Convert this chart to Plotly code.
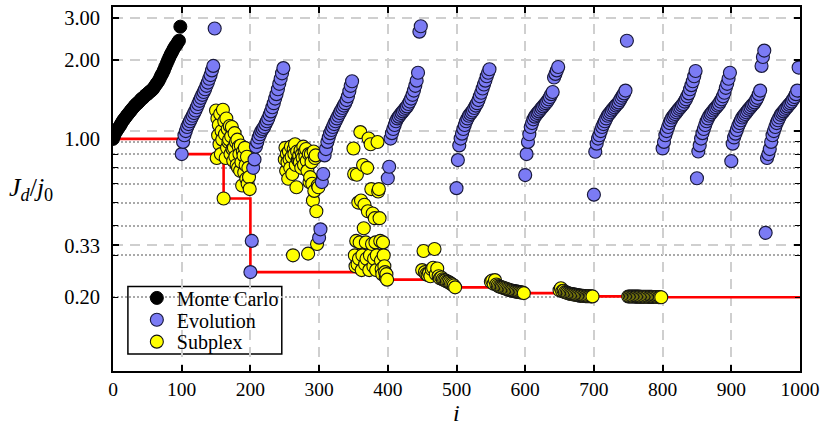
import plotly.graph_objects as go

# ---------------- data ----------------
# Monte Carlo: iterations 0..98 (every 2nd evaluation shown)
mc_start, mc_step = 0, 2
mc_values = [0.927, 0.96, 0.99, 1.01, 1.03, 1.05, 1.075, 1.10, 1.12, 1.14,
             1.16, 1.18, 1.20, 1.22, 1.24, 1.26, 1.28, 1.30, 1.31, 1.33,
             1.35, 1.37, 1.38, 1.40, 1.42, 1.43, 1.45, 1.47, 1.48, 1.50,
             1.53, 1.56, 1.59, 1.62, 1.66, 1.71, 1.75, 1.80, 1.86, 1.92,
             1.98, 2.04, 2.10, 2.15, 2.21, 2.26, 2.30, 2.35, 2.40, 2.75]

# Evolution runs (block start iteration -> values, every 2nd evaluation)
evo_step = 2
evo_100 = [0.80, 0.90, 0.96, 1.00, 1.04, 1.07, 1.10, 1.13, 1.16, 1.19, 1.22, 1.26, 1.30,
           1.34, 1.38, 1.42, 1.46, 1.50, 1.55, 1.60, 1.66, 1.72, 1.80, 1.88, 2.70]
evo_200 = [0.255, 0.345, 0.70, 0.76, 0.86, 0.90, 0.94, 0.97, 1.00, 1.02, 1.04, 1.07, 1.10,
           1.13, 1.17, 1.21, 1.26, 1.31, 1.37, 1.43, 1.50, 1.58, 1.66, 1.75, 1.84]
evo_300 = [0.356, 0.386, 0.61, 0.66, 0.79, 0.84, 0.90, 0.94, 0.98, 1.01, 1.04, 1.07, 1.10,
           1.13, 1.16, 1.19, 1.22, 1.25, 1.28, 1.31, 1.35, 1.40, 1.47, 1.55, 1.62]
evo_400 = [0.633, 0.708, 0.93, 0.98, 1.02, 1.06, 1.10, 1.13, 1.15, 1.17, 1.19, 1.21, 1.23,
           1.25, 1.27, 1.30, 1.33, 1.37, 1.42, 1.48, 1.55, 1.63, 1.76, 2.62, 2.76]
evo_500 = [0.575, 0.755, 0.87, 0.93, 0.975, 1.02, 1.06, 1.10, 1.13, 1.16, 1.18, 1.20, 1.22,
           1.25, 1.28, 1.31, 1.35, 1.40, 1.45, 1.51, 1.57, 1.63, 1.70, 1.76, 1.82]
evo_600 = [0.653, 0.80, 0.90, 0.97, 1.04, 1.08, 1.12, 1.15, 1.17, 1.19, 1.21, 1.23, 1.25,
           1.27, 1.29, 1.31, 1.33, 1.36, 1.39, 1.43, 1.46, 1.68, 1.74, 1.80, 1.86]
evo_700 = [0.54, 0.818, 0.885, 0.93, 0.96, 1.00, 1.04, 1.07, 1.10, 1.13, 1.16, 1.18, 1.20,
           1.22, 1.24, 1.26, 1.28, 1.30, 1.32, 1.35, 1.38, 1.41, 1.44, 1.48, 2.40]
evo_800 = [0.845, 0.90, 0.96, 1.00, 1.04, 1.08, 1.11, 1.14, 1.16, 1.18, 1.20, 1.22, 1.24,
           1.26, 1.28, 1.30, 1.33, 1.36, 1.40, 1.44, 1.50, 1.56, 1.62, 1.70, 1.79]
evo_850 = [0.633, 0.82, 0.87, 0.93, 0.98, 1.02, 1.06, 1.10, 1.13, 1.16, 1.18, 1.20, 1.22,
           1.24, 1.26, 1.28, 1.30, 1.33, 1.36, 1.40, 1.45, 1.52, 1.58, 1.66, 1.76]
evo_900 = [0.747, 0.885, 0.94, 0.975, 1.01, 1.05, 1.08, 1.11, 1.14, 1.16, 1.18, 1.20, 1.22,
           1.24, 1.26, 1.28, 1.30, 1.32, 1.35, 1.38, 1.43, 1.48, 1.88, 2.05, 2.18]
evo_950 = [0.373, 0.77, 0.80, 0.84, 0.90, 0.96, 1.00, 1.04, 1.08, 1.11, 1.14, 1.17, 1.19,
           1.21, 1.23, 1.25, 1.27, 1.29, 1.31, 1.33, 1.36, 1.39, 1.43, 1.48, 1.85]

# Subplex runs
sub_150 = [1.22, 0.77, 1.13, 0.96, 1.06, 0.88, 1.18, 0.80, 1.00, 0.92,
           1.23, 0.52, 1.10, 0.97, 0.77, 1.13, 0.85, 1.02, 0.90, 0.92,
           1.05, 0.80, 0.95, 1.04, 0.84, 0.75, 0.85, 0.98, 0.78, 0.90,
           0.72, 0.92, 0.70, 0.86, 0.80, 0.68, 0.87, 0.74, 0.59, 0.82,
           0.79, 0.67, 0.85, 0.72, 0.63, 0.78, 0.60, 0.70, 0.64, 0.57]
sub_250 = [0.76, 0.85, 0.68, 0.80, 0.74, 0.63, 0.82, 0.76, 0.70, 0.86,
           0.78, 0.66, 0.30, 0.84, 0.80, 0.88, 0.72, 0.58, 0.82, 0.76,
           0.75, 0.79, 0.74, 0.83, 0.70, 0.80, 0.77, 0.86, 0.72, 0.82,
           0.78, 0.84, 0.75, 0.68, 0.305, 0.80, 0.61, 0.64, 0.80, 0.74,
           0.60, 0.51, 0.82, 0.56, 0.77, 0.79, 0.46, 0.335, 0.59, 0.58]
sub_350 = [0.845, 0.66, 0.30, 0.27, 0.345, 0.655, 0.275, 0.50, 0.29, 0.34,
           0.99, 0.51, 0.26, 0.30, 0.72, 0.39, 0.49, 0.275, 0.34, 0.29,
           0.70, 0.46, 0.93, 0.26, 0.30, 0.88, 0.57, 0.335, 0.45, 0.27,
           0.29, 0.43, 0.34, 0.26, 0.30, 0.90, 0.557, 0.57, 0.43, 0.345,
           0.285, 0.263, 0.25, 0.34, 0.30, 0.27, 0.255, 0.242, 0.25, 0.237]
sub_450 = [0.26, 0.313, 0.255, 0.25, 0.248, 0.252, 0.245, 0.262, 0.266, 0.319,
           0.25, 0.264, 0.245, 0.24, 0.242, 0.238, 0.236, 0.235, 0.233, 0.232,
           0.23, 0.228, 0.226, 0.224, 0.22]
sub_550 = [0.232, 0.235, 0.228, 0.236, 0.226, 0.224, 0.222, 0.221, 0.22, 0.219,
           0.218, 0.217, 0.216, 0.215, 0.214, 0.2135, 0.213, 0.212, 0.2115, 0.211,
           0.2105, 0.21, 0.2095, 0.209, 0.208]
sub_650 = [0.214, 0.218, 0.212, 0.213, 0.21, 0.209, 0.208, 0.207, 0.2065, 0.206,
           0.2055, 0.205, 0.2045, 0.204, 0.2035, 0.203, 0.2028, 0.2025, 0.2022, 0.202,
           0.2019, 0.2018, 0.2017, 0.2016, 0.2015]
sub_750 = [0.2014, 0.2013, 0.2013, 0.2012, 0.2012, 0.2011, 0.2011, 0.201, 0.201, 0.2009,
           0.2009, 0.2008, 0.2008, 0.2007, 0.2007, 0.2006, 0.2006, 0.2005, 0.2004, 0.2003,
           0.2003, 0.2002, 0.2001, 0.2001, 0.2]

evo_runs = [(100, evo_100), (200, evo_200), (300, evo_300), (400, evo_400), (500, evo_500),
            (600, evo_600), (700, evo_700), (800, evo_800), (850, evo_850), (900, evo_900),
            (950, evo_950)]
sub_runs = [(150, 1, sub_150), (250, 1, sub_250), (350, 1, sub_350), (450, 2, sub_450),
            (550, 2, sub_550), (650, 2, sub_650), (750, 2, sub_750)]

series_names = ["Monte Carlo", "Evolution", "Subplex"]
x_ticks = list(range(0, 1001, 100))
y_major = [3.0, 2.0, 1.0, 0.33]
y_minor = [0.9, 0.8, 0.7, 0.6, 0.5, 0.4, 0.3, 0.2]
y_label_vals = [3.0, 2.0, 0.93, 0.33, 0.2]
y_label_text = ["3.00", "2.00", "1.00", "0.33", "0.20"]

# ---------------- build series ----------------
mc_x = [mc_start + mc_step * k for k in range(len(mc_values))]
evo_x, evo_y = [], []
for start, vals in evo_runs:
    evo_x += [start + evo_step * k for k in range(len(vals))]
    evo_y += vals
sub_x, sub_y = [], []
for start, step, vals in sub_runs:
    sub_x += [start + step * k for k in range(len(vals))]
    sub_y += vals

# running best (minimum so far)
allpts = sorted(list(zip(mc_x, mc_values)) + list(zip(evo_x, evo_y)) + list(zip(sub_x, sub_y)),
                key=lambda p: p[0])
best_x, best_y = [], []
cur = None
for xi, yi in allpts:
    if cur is None or yi < cur:
        cur = yi
        best_x.append(xi)
        best_y.append(yi)
best_x.append(1000)
best_y.append(cur)

SERIF = "Liberation Serif"
yrange = [-1.0096, 0.522]

# legend geometry (paper coords)
leg_x = 0.0347
leg_rows = [0.2008, 0.1407, 0.0806]

fig = go.Figure()
fig.add_trace(go.Scatter(x=best_x, y=best_y, mode="lines",
                         line=dict(color="#ff0000", width=2.6, shape="hv"),
                         showlegend=False, hoverinfo="skip"))
fig.add_trace(go.Scatter(x=mc_x, y=mc_values, mode="markers", name=series_names[0], legend="legend",
                         marker=dict(size=13, color="#000000", line=dict(color="#000000", width=1))))
fig.add_trace(go.Scatter(x=sub_x, y=sub_y, mode="markers", name=series_names[2], legend="legend3",
                         marker=dict(size=13, color="#ffff00", line=dict(color="#141414", width=1.1))))
fig.add_trace(go.Scatter(x=evo_x, y=evo_y, mode="markers", name=series_names[1], legend="legend2",
                         marker=dict(size=13, color="#7b7bf4", line=dict(color="#18183a", width=1.15))))
# carrier for the label axis
fig.add_trace(go.Scatter(x=[0], y=[1], yaxis="y2", mode="markers", marker=dict(opacity=0),
                         showlegend=False, hoverinfo="skip"))

def leg(y):
    return dict(x=leg_x, y=y, xanchor="left", yanchor="middle",
                bgcolor="rgba(0,0,0,0)", borderwidth=0,
                font=dict(size=20, family=SERIF, color="black"))

fig.update_layout(
    width=825, height=427,
    margin=dict(l=113, r=20, t=5, b=56),
    paper_bgcolor="white", plot_bgcolor="white",
    font=dict(family=SERIF, color="black", size=20),
    xaxis=dict(range=[0, 1000], tickmode="array", tickvals=x_ticks,
               ticks="inside", ticklen=6, tickwidth=1.5, tickcolor="black",
               showline=True, linecolor="black", linewidth=2, mirror="ticks",
               showgrid=True, gridcolor="#cfcfcf", gridwidth=1.5, griddash="10px,7px",
               zeroline=False, tickfont=dict(size=19.5, family=SERIF),
               ticklabeloverflow="allow"),
    yaxis=dict(type="log", range=yrange, tickmode="array", tickvals=y_major,
               showticklabels=False, ticks="inside", ticklen=6, tickwidth=1.5, tickcolor="black",
               showline=True, linecolor="black", linewidth=2, mirror="ticks",
               showgrid=True, gridcolor="#cfcfcf", gridwidth=1.5, griddash="10px,7px",
               zeroline=False,
               minor=dict(tickmode="array", tickvals=y_minor, ticks="inside", ticklen=5,
                          tickwidth=1.2, tickcolor="black", showgrid=True,
                          gridcolor="#a9a9a9", gridwidth=1.5, griddash="2px,2px")),
    yaxis2=dict(type="log", range=yrange, overlaying="y", side="left", anchor="x",
                tickmode="array", tickvals=y_label_vals, ticktext=y_label_text,
                showgrid=False, ticks="", showline=False, zeroline=False,
                ticklabelstandoff=12, ticklabeloverflow="allow",
                tickfont=dict(size=20.5, family=SERIF)),
    legend=leg(leg_rows[0]),
    legend2=leg(leg_rows[1]),
    legend3=leg(leg_rows[2]),
    shapes=[dict(type="rect", xref="paper", yref="paper",
                 x0=0.0217, x1=0.2457, y0=0.0465, y1=0.2322,
                 line=dict(color="black", width=1.5), fillcolor="white", layer="between")],
    annotations=[
        dict(text="<i>J</i><sub><i>d</i></sub>/<i>j</i><sub>0</sub>",
             xref="paper", yref="paper", x=-0.12, y=0.50,
             xanchor="center", yanchor="middle", showarrow=False,
             font=dict(size=26, family=SERIF)),
        dict(text="<i>i</i>", xref="paper", yref="paper", x=0.5, y=-0.0738,
             xanchor="center", yanchor="top", showarrow=False,
             font=dict(size=24, family=SERIF)),
    ],
)

# the page body gets no default margin, so the 825x427 figure fills the window exactly
fig.write_html("out.html", config={"displayModeBar": False},
               post_script="document.body.style.margin='0px';")
